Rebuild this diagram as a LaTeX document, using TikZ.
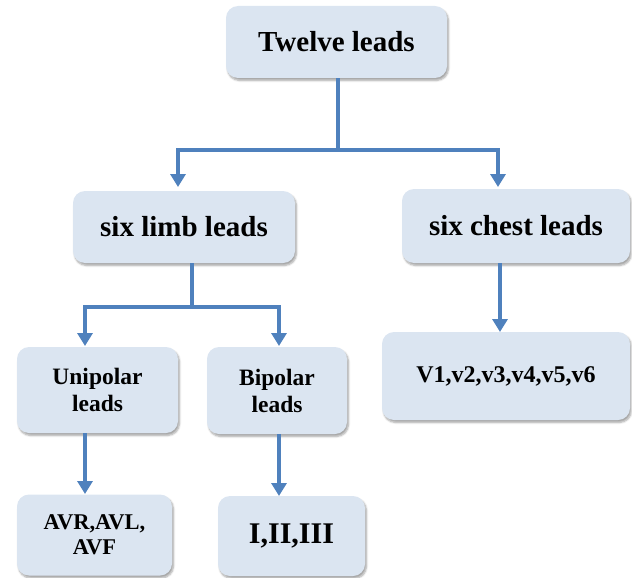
\documentclass[tikz,border=0pt]{standalone}
\usepackage{fontspec}
\setmainfont{Liberation Serif}
\usetikzlibrary{arrows.meta,shadows.blur}
\definecolor{boxfill}{HTML}{DBE5F1}
\definecolor{linkblue}{HTML}{4F81BD}
\tikzset{
  leadbox/.style={rounded corners=12pt, fill=boxfill, draw=none,
    blur shadow={shadow xshift=1.5pt, shadow yshift=-2.5pt, shadow blur steps=6, shadow opacity=35},
    align=center, font=\bfseries, inner sep=0pt, text=black},
  link/.style={draw=linkblue, line width=4.5pt},
  arrowlink/.style={link, -{Triangle[width=15pt,length=13pt]}}
}
\begin{document}
\begin{tikzpicture}[x=1pt,y=-1pt]
\useasboundingbox (0,0) rectangle (632,578);
% boxes
\node[leadbox, minimum width=221pt, minimum height=72pt, font=\bfseries\fontsize{29}{32}\selectfont] (twelve) at (336.5,42) {Twelve leads};
\node[leadbox, minimum width=222pt, minimum height=72pt, font=\bfseries\fontsize{29}{32}\selectfont] (limb) at (184,227) {six limb leads};
\node[leadbox, minimum width=228pt, minimum height=74pt, font=\bfseries\fontsize{29}{32}\selectfont] (chest) at (516,226) {six chest leads};
\node[leadbox, minimum width=161pt, minimum height=86pt, font=\bfseries\fontsize{23.5}{27}\selectfont] (uni) at (97.5,390) {Unipolar\\leads};
\node[leadbox, minimum width=140pt, minimum height=87pt, font=\bfseries\fontsize{23.5}{27}\selectfont] (bi) at (277,390.5) {Bipolar\\leads};
\node[leadbox, minimum width=248pt, minimum height=88pt, font=\bfseries\fontsize{24}{28}\selectfont] (vleads) at (506,376) {V1,v2,v3,v4,v5,v6};
\node[leadbox, minimum width=155pt, minimum height=81pt, font=\bfseries\fontsize{22.5}{25}\selectfont] (aug) at (94.5,535) {AVR,AVL,\\AVF};
\node[leadbox, minimum width=147pt, minimum height=80pt, font=\bfseries\fontsize{30}{32}\selectfont] (bip) at (291.5,536) {I,II,III};
% branch points
\coordinate (j1) at (338,150);
\coordinate (j2) at (192,307);
% connectors
\draw[link] (twelve.south -| j1) -- (j1);
\draw[arrowlink] (j1) -| (178,187);
\draw[arrowlink] (j1) -| (498,187);
\draw[link] (limb.south -| j2) -- (j2);
\draw[arrowlink] (j2) -| (85,346);
\draw[arrowlink] (j2) -| (279,346);
\draw[arrowlink] (chest.south -| 500,0) -- (500,332);
\draw[arrowlink] (uni.south -| 85,0) -- (85,494);
\draw[arrowlink] (bi.south -| 279,0) -- (279,496);
\end{tikzpicture}
\end{document}
